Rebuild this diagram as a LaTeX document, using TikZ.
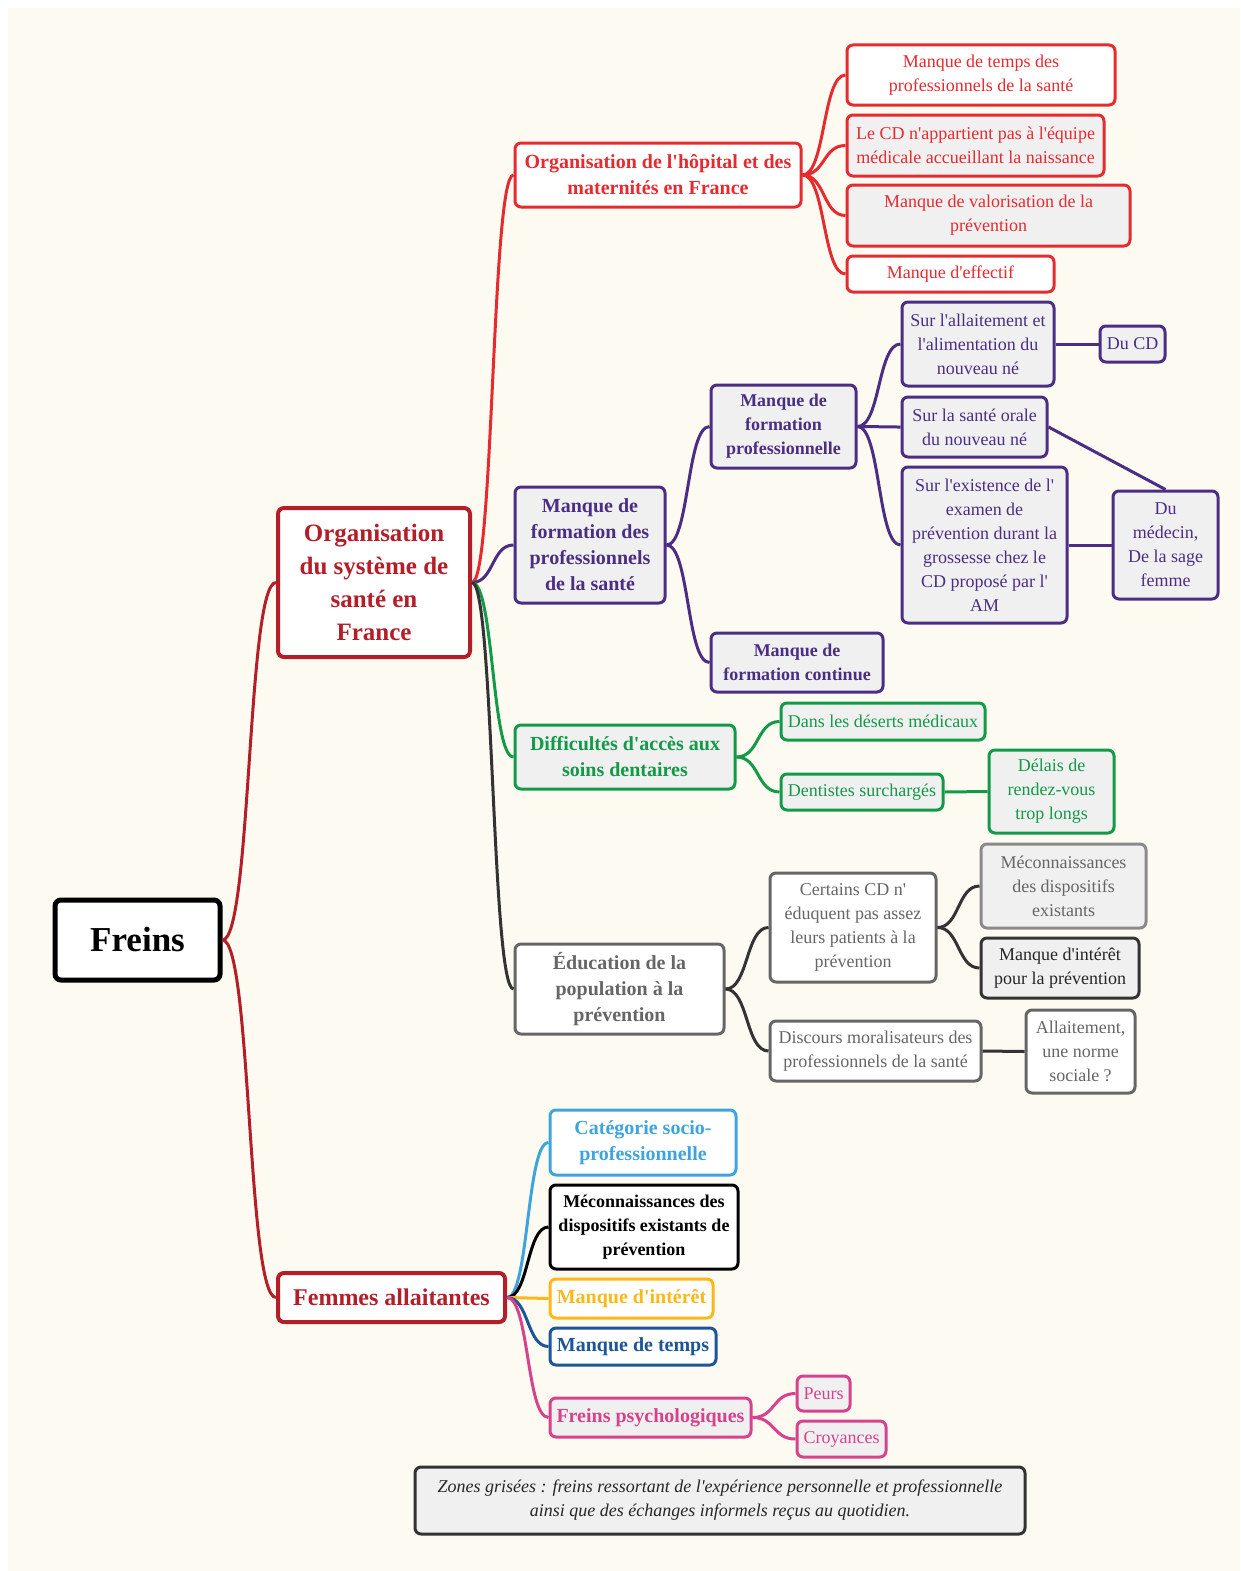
\documentclass[tikz,border=0pt]{standalone}
\usepackage{fontspec}
\setmainfont{Liberation Serif}[Ligatures=TeXOff]
\usepackage{xcolor}
\definecolor{fondcreme}{HTML}{FDFAF2}
\definecolor{grisfond}{HTML}{F0F0F0}
\definecolor{rouge}{HTML}{E52B30}
\definecolor{rougefonce}{HTML}{B31E28}
\definecolor{violet}{HTML}{4B2E83}
\definecolor{vert}{HTML}{139A48}
\definecolor{grisfonce}{HTML}{333333}
\definecolor{gristexte}{HTML}{666666}
\definecolor{grisclair}{HTML}{8A8A8A}
\definecolor{bleuclair}{HTML}{3DA5DC}
\definecolor{jaune}{HTML}{FBB817}
\definecolor{bleu}{HTML}{1C5698}
\definecolor{rose}{HTML}{D7428C}

\tikzset{
    boite/.style={draw=#1, text=#1, line width=3pt, rounded corners=6pt, fill=white,
        align=center, inner sep=3pt, font=\fontsize{18}{24}\selectfont},
    grise/.style={fill=grisfond},
    gras/.style={font=\bfseries\fontsize{20}{26}\selectfont},
    petitgras/.style={font=\bfseries\fontsize{18}{24}\selectfont},
    lien/.style={draw=#1, line width=3pt},
}

\begin{document}
\begin{tikzpicture}[x=1pt, y=-1pt]
    \useasboundingbox (0,0) rectangle (1240,1571);
    \fill[white] (0,0) rectangle (1240,1571);
    \fill[fondcreme] (8,8) rectangle (1240,1571);

    % racine et branches principales
    \node[boite=black, line width=5pt, minimum width=165pt, minimum height=80pt,
        font=\bfseries\fontsize{35}{40}\selectfont] (freins) at (137.5,940) {Freins};
    \node[boite=rougefonce, line width=4pt, minimum width=192pt, minimum height=149pt,
        font=\bfseries\fontsize{25}{33}\selectfont] (orgsys) at (374,582.5)
        {Organisation\\du système de\\santé en\\France};
    \node[boite=rougefonce, line width=4pt, minimum width=227pt, minimum height=49pt,
        font=\bfseries\fontsize{24}{28}\selectfont] (femmes) at (391.5,1297.5) {Femmes allaitantes};

    % organisation du systeme
    \node[boite=rouge, gras, minimum width=286pt, minimum height=64pt] (hopital) at (658,175)
        {Organisation de l'hôpital et des\\maternités en France};
    \node[boite=violet, grise, gras, minimum width=150pt, minimum height=116pt] (formation) at (590,545)
        {Manque de\\formation des\\professionnels\\de la santé};
    \node[boite=vert, grise, gras, minimum width=220pt, minimum height=64pt] (acces) at (625,757)
        {Difficultés d'accès aux\\soins dentaires};
    \node[boite=gristexte, gras, minimum width=209pt, minimum height=90pt] (education) at (619.5,989)
        {Éducation de la\\population à la\\prévention};

    % hopital
    \node[boite=rouge, minimum width=268pt, minimum height=60pt] (temps) at (981,75)
        {Manque de temps des\\professionnels de la santé};
    \node[boite=rouge, grise, minimum width=257pt, minimum height=61pt] (equipe) at (975.5,145.5)
        {Le CD n'appartient pas à l'équipe\\médicale accueillant la naissance};
    \node[boite=rouge, grise, minimum width=283pt, minimum height=61pt] (valor) at (988.5,215.5)
        {Manque de valorisation de la\\prévention};
    \node[boite=rouge, minimum width=207pt, minimum height=36pt] (effectif) at (950.5,274)
        {Manque d'effectif};

    % formation
    \node[boite=violet, grise, petitgras, minimum width=145pt, minimum height=83pt] (formpro) at (783.5,426.5)
        {Manque de\\formation\\professionnelle};
    \node[boite=violet, grise, petitgras, minimum width=172pt, minimum height=59pt] (formcont) at (797,662.5)
        {Manque de\\formation continue};
    \node[boite=violet, grise, minimum width=152pt, minimum height=84pt] (allait) at (978,344)
        {Sur l'allaitement et\\l'alimentation du\\nouveau né};
    \node[boite=violet, grise, minimum width=145pt, minimum height=60pt] (orale) at (974.5,427)
        {Sur la santé orale\\du nouveau né};
    \node[boite=violet, grise, minimum width=165pt, minimum height=156pt] (examen) at (984.5,545)
        {Sur l'existence de l'\\examen de\\prévention durant la\\grossesse chez le\\CD proposé par l'\\AM};
    \node[boite=violet, grise, minimum width=65pt, minimum height=36pt] (ducd) at (1132.5,344) {Du CD};
    \node[boite=violet, grise, minimum width=105pt, minimum height=108pt] (medecin) at (1165.5,545)
        {Du\\médecin,\\De la sage\\femme};

    % acces aux soins
    \node[boite=vert, grise, minimum width=204pt, minimum height=37pt] (deserts) at (883,721.5)
        {Dans les déserts médicaux};
    \node[boite=vert, grise, minimum width=162pt, minimum height=36pt] (surcharges) at (862,792)
        {Dentistes surchargés};
    \node[boite=vert, grise, minimum width=125pt, minimum height=83pt] (delais) at (1051.5,791.5)
        {Délais de\\rendez-vous\\trop longs};

    % education
    \node[boite=gristexte, minimum width=166pt, minimum height=109pt] (certains) at (853,927.5)
        {Certains CD n'\\éduquent pas assez\\leurs patients à la\\prévention};
    \node[boite=gristexte, minimum width=211pt, minimum height=60pt] (discours) at (875.5,1051)
        {Discours moralisateurs des\\professionnels de la santé};
    \node[boite=grisclair, grise, text=gristexte, minimum width=165pt, minimum height=84pt] (mecon) at (1063.5,886)
        {Méconnaissances\\des dispositifs\\existants};
    \node[boite=grisfonce, grise, text=black!85, minimum width=158pt, minimum height=60pt] (interet) at (1060,968)
        {Manque d'intérêt\\pour la prévention};
    \node[boite=gristexte, minimum width=109pt, minimum height=83pt] (norme) at (1080.5,1051.5)
        {Allaitement,\\une norme\\sociale ?};

    % femmes allaitantes
    \node[boite=bleuclair, gras, minimum width=186pt, minimum height=65pt] (categorie) at (643,1142.5)
        {Catégorie socio-\\professionnelle};
    \node[boite=black, petitgras, minimum width=188pt, minimum height=84pt] (meconf) at (644,1227)
        {Méconnaissances des\\dispositifs existants de\\prévention};
    \node[boite=jaune, gras, minimum width=163pt, minimum height=39pt] (interetf) at (631.5,1298.5)
        {Manque d'intérêt};
    \node[boite=bleu, gras, minimum width=166pt, minimum height=37pt] (tempsf) at (633,1346.5)
        {Manque de temps};
    \node[boite=rose, grise, gras, minimum width=201pt, minimum height=39pt] (psycho) at (650.5,1417.5)
        {Freins psychologiques};
    \node[boite=rose, grise, minimum width=53pt, minimum height=35pt] (peurs) at (823.5,1393.5) {Peurs};
    \node[boite=rose, grise, minimum width=89pt, minimum height=36pt] (croyances) at (841.5,1439) {Croyances};

    % legende
    \node[boite=grisfonce, grise, text=black!85, minimum width=610pt, minimum height=67pt,
        font=\itshape\fontsize{18}{24}\selectfont] (legende) at (720,1500.5)
        {Zones grisées : freins ressortant de l'expérience personnelle et professionnelle\\ainsi que des échanges informels reçus au quotidien.};

    % liens
    \draw[lien=rougefonce] (freins.east) .. controls +(29,0) and +(-29,0) .. (orgsys.west);
    \draw[lien=rougefonce] (freins.east) .. controls +(29,0) and +(-29,0) .. (femmes.west);

    \draw[lien=rouge] (orgsys.east) .. controls +(22,0) and +(-22,0) .. (hopital.west);
    \draw[lien=violet] (orgsys.east) .. controls +(22,0) and +(-22,0) .. (formation.west);
    \draw[lien=vert] (orgsys.east) .. controls +(22,0) and +(-22,0) .. (acces.west);
    \draw[lien=grisfonce] (orgsys.east) .. controls +(22,0) and +(-22,0) .. (education.west);

    \foreach \cible in {temps, equipe, valor, effectif}
        \draw[lien=rouge] (hopital.east) .. controls +(23,0) and +(-23,0) .. (\cible.west);

    \foreach \cible in {formpro, formcont}
        \draw[lien=violet] (formation.east) .. controls +(23,0) and +(-23,0) .. (\cible.west);
    \foreach \cible in {allait, orale, examen}
        \draw[lien=violet] (formpro.east) .. controls +(23,0) and +(-23,0) .. (\cible.west);
    \draw[lien=violet] (allait.east) -- (ducd.west);
    \draw[lien=violet] (orale.east) -- (medecin.north);
    \draw[lien=violet] (examen.east) -- (medecin.west);

    \foreach \cible in {deserts, surcharges}
        \draw[lien=vert] (acces.east) .. controls +(23,0) and +(-23,0) .. (\cible.west);
    \draw[lien=vert] (surcharges.east) -- (delais.west);

    \foreach \cible in {certains, discours}
        \draw[lien=grisfonce] (education.east) .. controls +(23,0) and +(-23,0) .. (\cible.west);
    \foreach \cible in {mecon, interet}
        \draw[lien=grisfonce] (certains.east) .. controls +(22,0) and +(-22,0) .. (\cible.west);
    \draw[lien=grisfonce] (discours.east) -- (norme.west);

    \draw[lien=bleuclair] (femmes.east) .. controls +(22,0) and +(-22,0) .. (categorie.west);
    \draw[lien=black] (femmes.east) .. controls +(22,0) and +(-22,0) .. (meconf.west);
    \draw[lien=jaune] (femmes.east) -- (interetf.west);
    \draw[lien=bleu] (femmes.east) .. controls +(22,0) and +(-22,0) .. (tempsf.west);
    \draw[lien=rose] (femmes.east) .. controls +(22,0) and +(-22,0) .. (psycho.west);
    \foreach \cible in {peurs, croyances}
        \draw[lien=rose] (psycho.east) .. controls +(23,0) and +(-23,0) .. (\cible.west);
\end{tikzpicture}
\end{document}
